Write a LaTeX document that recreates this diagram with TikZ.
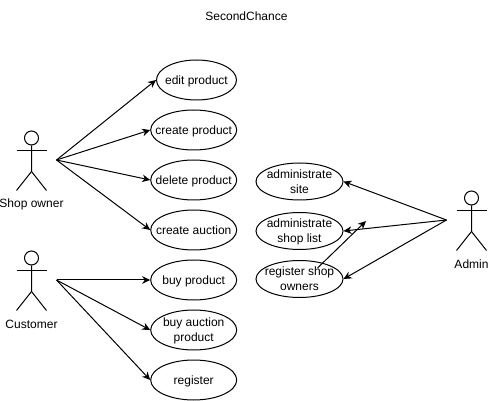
\documentclass[tikz,border=0pt]{standalone}
\usepackage{fontspec}
\setmainfont{Liberation Sans}
\usetikzlibrary{arrows.meta,shapes.geometric}
\tikzset{>={Stealth[length=8pt,width=7.5pt,inset=2.5pt]}}
\tikzset{usecase/.style={ellipse,draw,line width=1pt,inner sep=-12pt,minimum height=40pt,align=center,text depth=0pt,font=\fontsize{12}{15}\selectfont},
  usecasewide/.style={usecase,minimum width=86pt},
  usecasetight/.style={usecase,minimum width=87pt,minimum height=37pt},
  actorlabel/.style={font=\fontsize{12}{15}\selectfont},
  link/.style={->,line width=1pt}}
% stick figure: name, x of the body, y of the head centre, label
\newcommand{\stickactor}[4]{
  \node [circle,draw,line width=1pt,minimum size=14pt,inner sep=0pt] (#1head) at (#2,#3) {};
  \draw [line width=1pt] (#1head.south) -- ++(0,26) coordinate (#1hip) -- ++(-15,19);
  \draw [line width=1pt] (#1hip) -- ++(15,19);
  \draw [line width=1pt] ([shift={(-15,12.5)}]#1head.center) -- ++(30,0);
  \node [actorlabel] (#1label) at ([yshift=-66pt]#1head.center) {#4};
}
\begin{document}
\begin{tikzpicture}[x=1pt,y=-1pt]
  \useasboundingbox (0,0) rectangle (488,401);
  \node [actorlabel] (title) at (246.5,16) {SecondChance};
  \stickactor{shop}{31.5}{138}{Shop owner}
  \stickactor{customer}{31.5}{258}{Customer}
  \stickactor{admin}{471.5}{198}{Admin}
  \coordinate (shopout) at (56.5,160);
  \coordinate (customerout) at (56.5,280);
  \coordinate (adminout) at (446.5,220);
  \coordinate (loose) at (366,221);
  \node [usecase,minimum width=80pt] (edit) at (196.5,80) {edit product};
  \node [usecasewide] (create) at (193.7,130) {create product};
  \node [usecasewide] (delete) at (193.7,180) {delete product};
  \node [usecasewide] (auction) at (193.7,230) {create auction};
  \node [usecasewide] (buy) at (193.7,280) {buy product};
  \node [usecasewide] (buyauction) at (193.7,330) {buy auction\\product};
  \node [usecasewide] (register) at (193.7,380) {register};
  \node [usecasetight] (site) at (299.5,181.5) {administrate\\site};
  \node [usecasetight] (list) at (299.5,231) {administrate\\shop list};
  \node [usecasetight] (owners) at (299.5,279) {register shop\\owners};
  \draw [link] (shopout) -- (edit.west);
  \draw [link] (shopout) -- (create.west);
  \draw [link] (shopout) -- (delete.west);
  \draw [link] (shopout) -- (auction.west);
  \draw [link] (customerout) -- (buy.west);
  \draw [link] (customerout) -- (buyauction.west);
  \draw [link] (customerout) -- (register.west);
  \draw [link] (adminout) -- (site.east);
  \draw [link] (adminout) -- (list.east);
  \draw [link] (adminout) -- (owners.east);
  \draw [link] (owners) ++(18,-11) -- (loose);
\end{tikzpicture}
\end{document}
